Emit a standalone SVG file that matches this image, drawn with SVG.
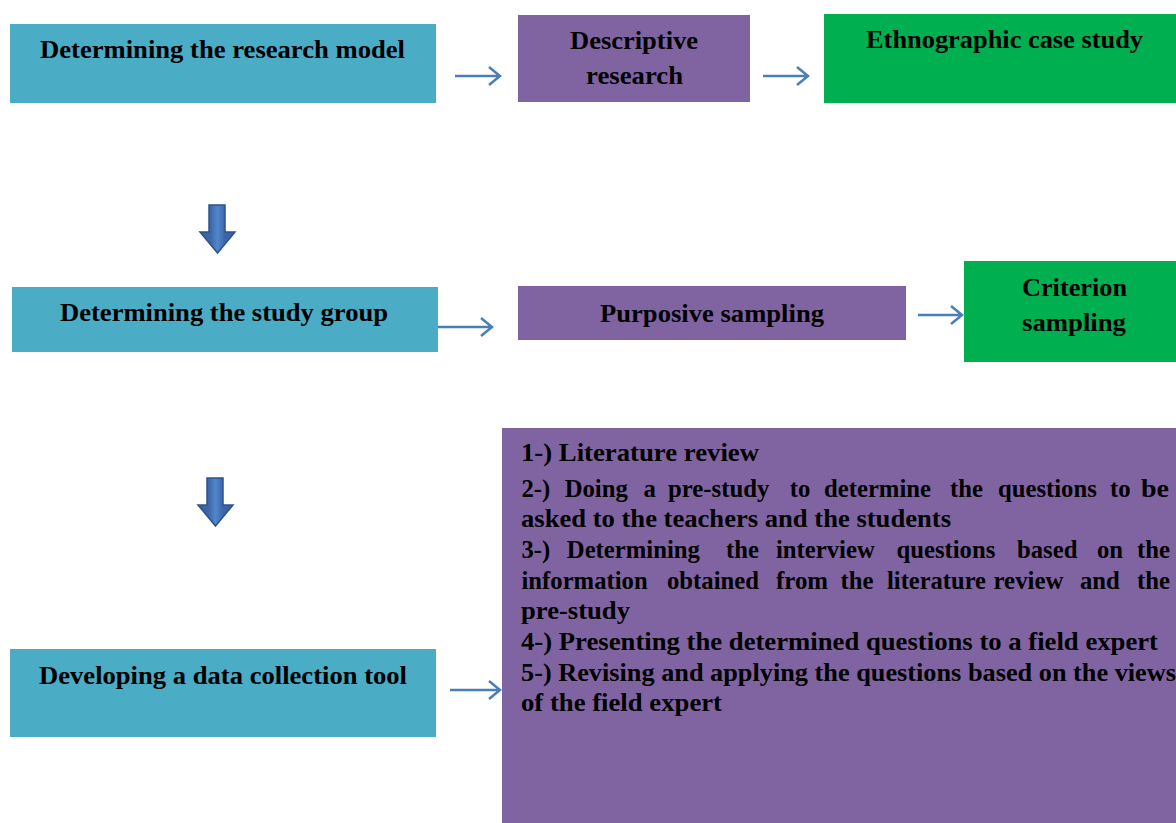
<svg xmlns="http://www.w3.org/2000/svg" width="1176" height="823" viewBox="0 0 1176 823">
<style>
.teal{fill:#4BACC6}
.purple{fill:#8064A2}
.green{fill:#00B050}
text{font-family:"Liberation Serif","Times New Roman",serif;font-weight:bold;font-size:26px;fill:#000}
.conn{fill:none;stroke:#4A7EBB;stroke-width:2.5}
.down{fill:url(#dg);stroke:#2F528F;stroke-width:1.5}
</style>
<defs>
<linearGradient id="dg" x1="0" y1="0" x2="1" y2="0">
<stop offset="0" stop-color="#365F99"/>
<stop offset="0.3" stop-color="#3D68A8"/>
<stop offset="0.5" stop-color="#5087CC"/>
<stop offset="0.7" stop-color="#3D68A8"/>
<stop offset="1" stop-color="#365F99"/>
</linearGradient>
</defs>
<rect width="1176" height="823" fill="#fff"/>

<g id="n1"><rect class="teal" x="10" y="24" width="426" height="79"/><text x="40" y="58" textLength="365" lengthAdjust="spacingAndGlyphs">Determining the research model</text></g>
<g id="n2"><rect class="purple" x="518" y="15" width="232" height="87"/><text x="570" y="49" textLength="128" lengthAdjust="spacingAndGlyphs">Descriptive</text><text x="586" y="84" textLength="97" lengthAdjust="spacingAndGlyphs">research</text></g>
<g id="n3"><rect class="green" x="824" y="14" width="352" height="89"/><text x="866" y="48" textLength="277" lengthAdjust="spacingAndGlyphs">Ethnographic case study</text></g>

<g id="n4"><rect class="teal" x="12" y="287" width="426" height="65"/><text x="60" y="321" textLength="328" lengthAdjust="spacingAndGlyphs">Determining the study group</text></g>
<g id="n5"><rect class="purple" x="518" y="286" width="388" height="54"/><text x="600" y="322" textLength="224" lengthAdjust="spacingAndGlyphs">Purposive sampling</text></g>
<g id="n6"><rect class="green" x="964" y="261" width="212" height="101"/><text x="1022" y="296" textLength="105" lengthAdjust="spacingAndGlyphs">Criterion</text><text x="1022" y="331" textLength="104" lengthAdjust="spacingAndGlyphs">sampling</text></g>

<g id="n7"><rect class="teal" x="10" y="649" width="426" height="88"/><text x="39" y="684" textLength="368" lengthAdjust="spacingAndGlyphs">Developing a data collection tool</text></g>
<g id="n8"><rect class="purple" x="502" y="428" width="674" height="395"/>
<text x="521" y="461" textLength="238" lengthAdjust="spacingAndGlyphs">1-) Literature review</text>
<g>
<text x="521.5" y="497" textLength="28.8" lengthAdjust="spacingAndGlyphs">2-)</text>
<text x="564.7" y="497" textLength="63.1" lengthAdjust="spacingAndGlyphs">Doing</text>
<text x="643.5" y="497" textLength="12.4" lengthAdjust="spacingAndGlyphs">a</text>
<text x="668" y="497" textLength="101.5" lengthAdjust="spacingAndGlyphs">pre-study</text>
<text x="789.7" y="497" textLength="20.6" lengthAdjust="spacingAndGlyphs">to</text>
<text x="824" y="497" textLength="107" lengthAdjust="spacingAndGlyphs">determine</text>
<text x="950" y="497" textLength="32.9" lengthAdjust="spacingAndGlyphs">the</text>
<text x="998" y="497" textLength="98.8" lengthAdjust="spacingAndGlyphs">questions</text>
<text x="1110" y="497" textLength="20.6" lengthAdjust="spacingAndGlyphs">to</text>
<text x="1141" y="497" textLength="28" lengthAdjust="spacingAndGlyphs">be</text>
</g>
<text x="521" y="527" textLength="430" lengthAdjust="spacingAndGlyphs">asked to the teachers and the students</text>
<g>
<text x="521.5" y="558" textLength="28.8" lengthAdjust="spacingAndGlyphs">3-)</text>
<text x="566.8" y="558" textLength="133.1" lengthAdjust="spacingAndGlyphs">Determining</text>
<text x="726" y="558" textLength="32.9" lengthAdjust="spacingAndGlyphs">the</text>
<text x="776" y="558" textLength="98.8" lengthAdjust="spacingAndGlyphs">interview</text>
<text x="896.5" y="558" textLength="98.8" lengthAdjust="spacingAndGlyphs">questions</text>
<text x="1017" y="558" textLength="60.4" lengthAdjust="spacingAndGlyphs">based</text>
<text x="1097" y="558" textLength="26.1" lengthAdjust="spacingAndGlyphs">on</text>
<text x="1137" y="558" textLength="33" lengthAdjust="spacingAndGlyphs">the</text>
</g>
<g>
<text x="521.5" y="589" textLength="126.2" lengthAdjust="spacingAndGlyphs">information</text>
<text x="667" y="589" textLength="92" lengthAdjust="spacingAndGlyphs">obtained</text>
<text x="776" y="589" textLength="52.1" lengthAdjust="spacingAndGlyphs">from</text>
<text x="840.5" y="589" textLength="32.9" lengthAdjust="spacingAndGlyphs">the</text>
<text x="887" y="589" textLength="99" lengthAdjust="spacingAndGlyphs">literature</text>
<text x="993.5" y="589" textLength="70" lengthAdjust="spacingAndGlyphs">review</text>
<text x="1080" y="589" textLength="39.8" lengthAdjust="spacingAndGlyphs">and</text>
<text x="1137" y="589" textLength="33" lengthAdjust="spacingAndGlyphs">the</text>
</g>
<text x="521" y="619" textLength="109" lengthAdjust="spacingAndGlyphs">pre-study</text>
<text x="521" y="650" textLength="637" lengthAdjust="spacingAndGlyphs">4-) Presenting the determined questions to a field expert</text>
<text x="521" y="681" textLength="655" lengthAdjust="spacingAndGlyphs">5-) Revising and applying the questions based on the views</text>
<text x="521" y="711" textLength="201" lengthAdjust="spacingAndGlyphs">of the field expert</text>
</g>

<g id="connectors">
<path class="conn" d="M455,76 H500 M489,67 L500,76 L489,85"/>
<path class="conn" d="M763,76 H808 M797,67 L808,76 L797,85"/>
<path class="conn" d="M438,327 H492 M481,318 L492,327 L481,336"/>
<path class="conn" d="M918,315 H962 M951,306 L962,315 L951,324"/>
<path class="conn" d="M450,690 H500 M489,681 L500,690 L489,699"/>
<polygon class="down" points="209,205 225,205 225,232 235,232 217.5,253 200,232 209,232"/>
<polygon class="down" points="207,478 223,478 223,505 233,505 215.5,526 198,505 207,505"/>
</g>
</svg>
